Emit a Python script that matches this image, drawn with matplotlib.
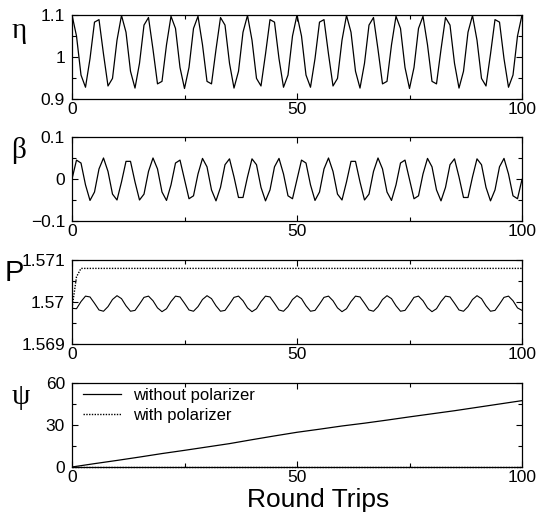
import numpy as np
import matplotlib
matplotlib.use('Agg')
import matplotlib.pyplot as plt
from matplotlib.ticker import FixedLocator

plt.rcParams['font.family'] = ['Liberation Sans', 'DejaVu Sans']

# round trip number
trips = np.arange(0, 101)

# eta (one value per round trip)
eta = [1.100, 1.050, 0.957, 0.928, 0.996, 1.083, 1.089, 1.007, 0.931, 0.949,
       1.040, 1.099, 1.059, 0.966, 0.926, 0.985, 1.076, 1.094, 1.018, 0.936,
       0.942, 1.029, 1.097, 1.068, 0.975, 0.925, 0.975, 1.068, 1.097, 1.029,
       0.942, 0.936, 1.018, 1.094, 1.076, 0.985, 0.926, 0.966, 1.059, 1.099,
       1.040, 0.949, 0.931, 1.007, 1.089, 1.083, 0.996, 0.928, 0.957, 1.050,
       1.100, 1.050, 0.957, 0.928, 0.996, 1.083, 1.089, 1.007, 0.931, 0.949,
       1.040, 1.099, 1.059, 0.966, 0.926, 0.985, 1.076, 1.094, 1.018, 0.936,
       0.942, 1.029, 1.097, 1.068, 0.975, 0.925, 0.975, 1.068, 1.097, 1.029,
       0.942, 0.936, 1.018, 1.094, 1.076, 0.985, 0.926, 0.966, 1.059, 1.099,
       1.040, 0.949, 0.931, 1.007, 1.089, 1.083, 0.996, 0.928, 0.957, 1.050,
       1.100]

# beta
beta = [0.000, 0.045, 0.038, -0.014, -0.051, -0.031, 0.024, 0.050, 0.018, -0.036,
        -0.050, -0.007, 0.042, 0.042, -0.007, -0.050, -0.036, 0.018, 0.050, 0.024,
        -0.031, -0.051, -0.014, 0.038, 0.045, -0.001, -0.047, -0.040, 0.012, 0.049,
        0.029, -0.026, -0.052, -0.020, 0.034, 0.048, 0.005, -0.044, -0.044, 0.005,
        0.048, 0.034, -0.020, -0.052, -0.026, 0.029, 0.049, 0.012, -0.040, -0.047,
        -0.001, 0.045, 0.038, -0.014, -0.051, -0.031, 0.024, 0.050, 0.018, -0.036,
        -0.050, -0.007, 0.042, 0.042, -0.007, -0.050, -0.036, 0.018, 0.050, 0.024,
        -0.031, -0.051, -0.014, 0.038, 0.045, -0.001, -0.047, -0.040, 0.012, 0.049,
        0.029, -0.026, -0.052, -0.020, 0.034, 0.048, 0.005, -0.044, -0.044, 0.005,
        0.048, 0.034, -0.020, -0.052, -0.026, 0.029, 0.049, 0.012, -0.040, -0.047,
        -0.001]

# P without polarizer
p_free = [1.56985, 1.56984, 1.57001, 1.57014, 1.57012, 1.56997, 1.56981, 1.56978, 1.56989, 1.57006,
          1.57015, 1.57008, 1.56991, 1.56978, 1.56980, 1.56995, 1.57011, 1.57014, 1.57003, 1.56986,
          1.56977, 1.56984, 1.57001, 1.57014, 1.57012, 1.56997, 1.56981, 1.56978, 1.56989, 1.57006,
          1.57015, 1.57008, 1.56991, 1.56978, 1.56980, 1.56995, 1.57011, 1.57014, 1.57003, 1.56986,
          1.56977, 1.56984, 1.57001, 1.57014, 1.57012, 1.56997, 1.56981, 1.56978, 1.56989, 1.57006,
          1.57015, 1.57008, 1.56991, 1.56978, 1.56980, 1.56995, 1.57011, 1.57014, 1.57003, 1.56986,
          1.56977, 1.56984, 1.57001, 1.57014, 1.57012, 1.56997, 1.56981, 1.56978, 1.56989, 1.57006,
          1.57015, 1.57008, 1.56991, 1.56978, 1.56980, 1.56995, 1.57011, 1.57014, 1.57003, 1.56986,
          1.56977, 1.56984, 1.57001, 1.57014, 1.57012, 1.56997, 1.56981, 1.56978, 1.56989, 1.57006,
          1.57015, 1.57008, 1.56991, 1.56978, 1.56980, 1.56995, 1.57011, 1.57014, 1.57003, 1.56986,
          1.56980]

# P with polarizer
p_pol_x = [0, 1, 2, 100]
p_pol = [1.56985, 1.57060, 1.57080, 1.57080]

# psi
psi_x = [0, 5, 10, 15, 20, 25, 30, 35, 40, 45, 50, 55, 60, 65, 70, 75, 80, 85, 90, 95, 100]
psi_free = [0, 2.4, 4.7, 7.1, 9.6, 11.9, 14.3, 16.7, 19.5, 22.2, 24.8,
            27.0, 29.3, 31.3, 33.5, 35.8, 38.0, 40.2, 42.6, 45.0, 47.4]
psi_pol_x = [0, 100]
psi_pol = [0, 0]

# axis labels / ticks
names = ['\u03b7', '\u03b2', 'P', '\u03c8']
ylims = [(0.9, 1.1), (-0.1, 0.1), (1.569, 1.571), (0, 60)]
yticks = [[0.9, 1.0, 1.1], [-0.1, 0.0, 0.1], [1.569, 1.570, 1.571], [0, 30, 60]]
yticklabels = [['0.9', '1', '1.1'], ['\u22120.1', '0', '0.1'],
               ['1.569', '1.57', '1.571'], ['0', '30', '60']]
yminor = [[0.95, 1.05], [-0.05, 0.05],
          [1.5695, 1.5705], [15, 45]]
xticks = [0, 50, 100]
xminor = [25, 75]

fig = plt.figure(figsize=(5.37, 5.12), dpi=100)
W, H = 537.0, 512.0
tops = [15, 137, 260, 383]
name_pos = [(19, 31), (19, 150), (14, 273), (21, 397)]

axes = []
for i in range(4):
    ax = fig.add_axes([72 / W, 1 - (tops[i] + 84) / H, 450 / W, 84 / H])
    ax.set_xlim(0, 100)
    ax.set_ylim(*ylims[i])
    ax.xaxis.set_major_locator(FixedLocator(xticks))
    ax.xaxis.set_minor_locator(FixedLocator(xminor))
    ax.set_xticklabels([str(t) for t in xticks])
    ax.yaxis.set_major_locator(FixedLocator(yticks[i]))
    ax.yaxis.set_minor_locator(FixedLocator(yminor[i]))
    ax.set_yticklabels(yticklabels[i])
    ax.tick_params(which='both', direction='in', top=True, right=True,
                   labelsize=12.5, width=0.8, colors='black')
    ax.tick_params(which='major', length=4)
    ax.tick_params(which='minor', length=3)
    ax.tick_params(axis='x', pad=2)
    ax.tick_params(axis='y', pad=5)
    for sp in ax.spines.values():
        sp.set_linewidth(0.9)
    fx, fy = name_pos[i]
    fig.text(fx / W, 1 - fy / H, names[i], fontsize=21, ha='center', va='center',
             family=['Liberation Serif', 'DejaVu Serif'] if i != 2 else ['Liberation Sans'])
    axes.append(ax)

axes[0].plot(trips, eta, color='black', lw=0.9)
axes[1].plot(trips, beta, color='black', lw=0.9)
axes[2].plot(trips, p_free, color='black', lw=0.8)
axes[2].plot(p_pol_x, p_pol, color='black', lw=1.0, ls=(0, (1, 1)))
axes[3].plot(psi_x, psi_free, color='black', lw=0.9, label='without polarizer')
axes[3].plot(psi_pol_x, psi_pol, color='black', lw=1.0, ls=(0, (1, 1)),
             label='with polarizer', clip_on=False)

axes[3].legend(loc='upper left', frameon=False, fontsize=12, handlelength=2.3,
               handletextpad=0.7, labelspacing=0.3, borderaxespad=0.1,
               bbox_to_anchor=(0.005, 1.04))

fig.text(318 / W, 1 - 500 / H, 'Round Trips', fontsize=19, ha='center', va='center')

fig.savefig('out.png', dpi=100)
